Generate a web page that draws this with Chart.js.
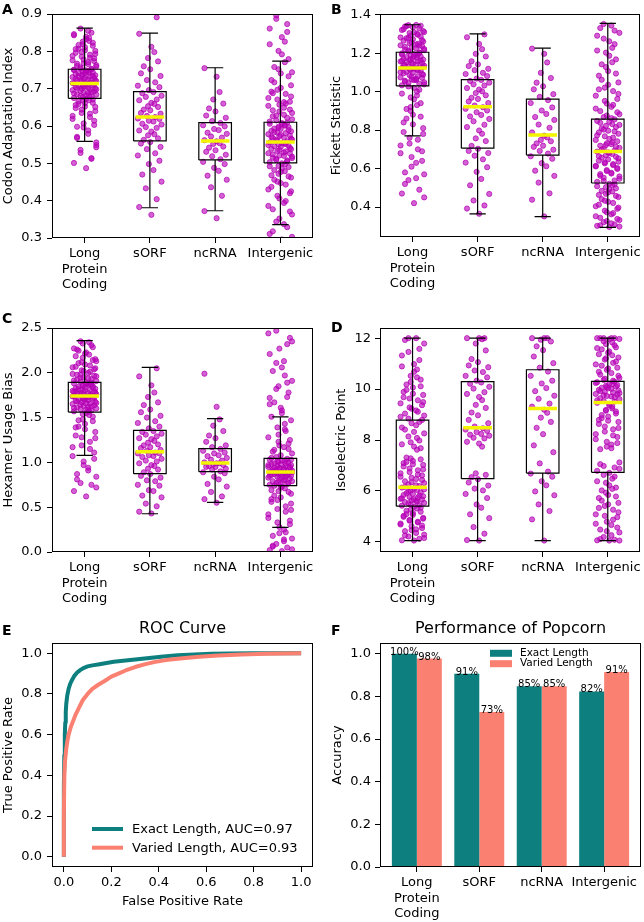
<!DOCTYPE html>
<html><head><meta charset="utf-8"><title>Popcorn feature distributions</title>
<script src="https://cdn.jsdelivr.net/npm/chart.js@4.4.1/dist/chart.umd.min.js"></script>
<style>
html,body{margin:0;padding:0;background:#fff}
body{position:relative;width:644px;height:922px;overflow:hidden;font-family:"DejaVu Sans",sans-serif}
canvas{position:absolute}
.tag{position:absolute;font-weight:bold;font-size:14px;line-height:14px;color:#000;font-family:"DejaVu Sans",sans-serif}
</style></head><body>
<canvas id="cA" width="322" height="300" style="left:0;top:0"></canvas>
<canvas id="cB" width="322" height="300" style="left:322px;top:0"></canvas>
<canvas id="cC" width="322" height="310" style="left:0;top:300px"></canvas>
<canvas id="cD" width="322" height="310" style="left:322px;top:300px"></canvas>
<canvas id="cE" width="322" height="322" style="left:0;top:600px"></canvas>
<canvas id="cF" width="322" height="322" style="left:322px;top:600px"></canvas>
<div class="tag" style="left:2px;top:2px">A</div>
<div class="tag" style="left:331px;top:1.5px">B</div>
<div class="tag" style="left:2px;top:311px">C</div>
<div class="tag" style="left:331px;top:320px">D</div>
<div class="tag" style="left:2px;top:623px">E</div>
<div class="tag" style="left:331px;top:623px">F</div>
<script>
// ---------- data ----------
const CATEGORIES = [['Long','Protein','Coding'], 'sORF', 'ncRNA', 'Intergenic'];

// Panel A: Codon Adaptation Index
const A_TICKS = [0.3,0.4,0.5,0.6,0.7,0.8,0.9];
const A_LONG = [0.487,0.501,0.514,0.536,0.549,0.568,0.579,0.596,0.603,0.619,0.624,0.635,0.640,0.648,0.652,0.659,0.662,0.668,0.669,0.673,
0.675,0.679,0.680,0.684,0.685,0.689,0.690,0.693,0.696,0.697,0.700,0.701,0.704,0.705,0.708,0.709,0.710,0.712,0.713,0.714,
0.716,0.719,0.720,0.723,0.725,0.726,0.729,0.731,0.732,0.735,0.736,0.739,0.741,0.742,0.744,0.747,0.748,0.749,0.751,0.752,
0.754,0.759,0.761,0.766,0.768,0.774,0.776,0.783,0.786,0.793,0.796,0.803,0.807,0.815,0.819,0.828,0.833,0.843,0.850,0.861,
0.556,0.571,0.588,0.607,0.614,0.627,0.633,0.644,0.651,0.656,0.661,0.666,0.671,0.677,0.681,0.683,0.687,0.691,0.694,0.698,
0.702,0.703,0.706,0.711,0.715,0.717,0.721,0.722,0.727,0.728,0.733,0.734,0.738,0.743,0.745,0.750,0.753,0.757,0.763,0.767,
0.771,0.778,0.781,0.788,0.791,0.798,0.801,0.806,0.811,0.817,0.823,0.826,0.836,0.839,0.846,0.512,0.528,0.543,0.598,0.855];
const A_SORF = [0.362,0.383,0.404,0.433,0.451,0.470,0.482,0.498,0.507,0.521,0.527,0.538,0.544,0.553,0.557,
0.563,0.567,0.575,0.578,0.585,0.588,0.595,0.597,0.604,0.606,0.612,0.614,0.619,0.620,0.624,
0.627,0.633,0.635,0.642,0.644,0.651,0.653,0.659,0.662,0.669,0.671,0.678,0.681,0.688,0.691,
0.696,0.704,0.708,0.717,0.723,0.734,0.741,0.752,0.760,0.773,0.782,0.798,0.812,0.847,0.891];
const A_NCRNA = [0.353,0.372,0.413,0.436,0.456,0.467,0.480,0.488,0.498,0.504,
0.511,0.519,0.523,0.531,0.535,0.542,0.545,0.552,0.554,0.559,
0.562,0.569,0.572,0.579,0.582,0.589,0.592,0.599,0.602,0.608,
0.613,0.622,0.628,0.639,0.647,0.660,0.671,0.691,0.732,0.755];
const A_INTER = [0.296,0.311,0.329,0.344,0.363,0.377,0.394,0.406,0.420,0.430,0.443,0.451,0.462,0.468,0.477,0.482,0.490,0.493,0.497,0.500,
0.503,0.508,0.509,0.514,0.515,0.520,0.521,0.526,0.527,0.532,0.533,0.538,0.539,0.544,0.546,0.547,0.551,0.552,0.554,0.556,
0.559,0.563,0.564,0.568,0.569,0.573,0.574,0.578,0.581,0.582,0.586,0.587,0.592,0.593,0.597,0.598,0.603,0.605,0.606,0.609,
0.615,0.618,0.626,0.630,0.639,0.644,0.654,0.660,0.671,0.679,0.692,0.702,0.717,0.733,0.752,0.771,0.792,0.819,0.852,0.887,
0.303,0.318,0.337,0.352,0.371,0.386,0.399,0.413,0.425,0.437,0.447,0.456,0.465,0.472,0.479,0.486,0.492,0.505,0.512,0.518,
0.524,0.529,0.536,0.541,0.549,0.553,0.561,0.566,0.571,0.576,0.584,0.589,0.595,0.601,0.608,0.612,0.622,0.628,0.635,0.642,
0.649,0.657,0.665,0.675,0.686,0.697,0.709,0.723,0.741,0.758,0.779,0.801,0.826,0.838,0.861,0.873,0.896,0.744,0.688,0.664];
const A_WHISK_LO = [0.559,0.381,0.373,0.336];
const A_Q1 = [0.674,0.560,0.509,0.501];
const A_MEDIAN = [0.714,0.624,0.560,0.557];
const A_Q3 = [0.752,0.692,0.609,0.610];
const A_WHISK_HI = [0.862,0.849,0.756,0.774];

// Panel B: Fickett Statistic
const B_TICKS = [0.4,0.6,0.8,1.0,1.2,1.4];
const B_LONG = [0.42,0.47,0.49,0.54,0.57,0.58,0.63,0.66,0.69,0.72,0.75,0.76,0.81,0.84,0.88,0.91,0.94,0.97,1.00,1.02,
1.033,1.041,1.046,1.049,1.057,1.061,1.064,1.072,1.074,1.081,1.086,1.088,1.096,1.099,1.104,1.109,1.114,1.115,1.121,1.123,
1.126,1.131,1.135,1.139,1.142,1.149,1.150,1.157,1.158,1.163,1.167,1.171,1.175,1.180,1.183,1.187,1.191,1.195,1.199,1.204,
1.209,1.216,1.219,1.226,1.229,1.237,1.241,1.249,1.253,1.261,1.265,1.273,1.278,1.287,1.292,1.301,1.309,1.321,1.329,1.346,
0.45,0.52,0.55,0.61,0.64,0.68,0.70,0.73,0.78,0.79,0.83,0.86,0.87,0.90,0.93,0.96,0.99,1.01,1.027,1.038,
1.052,1.067,1.078,1.092,1.101,1.112,1.118,1.129,1.137,1.145,1.153,1.161,1.169,1.177,1.185,1.193,1.201,1.212,1.222,1.233,
1.245,1.257,1.268,1.282,1.296,1.305,1.315,1.325,1.335,1.341,1.343,0.92,0.98,1.06,1.16,1.24,1.28,1.31,1.339,1.347];
const B_SORF = [0.365,0.392,0.408,0.434,0.468,0.513,0.546,0.583,0.607,0.631,0.648,0.667,0.681,0.692,0.703,
0.718,0.743,0.757,0.781,0.798,0.816,0.828,0.846,0.858,0.871,0.879,0.893,0.902,0.911,0.919,
0.928,0.941,0.949,0.962,0.968,0.981,0.993,1.002,1.011,1.019,1.032,1.038,1.047,1.056,1.061,
1.068,1.081,1.092,1.098,1.112,1.119,1.133,1.142,1.158,1.183,1.197,1.221,1.248,1.283,1.298];
const B_NCRNA = [0.351,0.438,0.471,0.527,0.562,0.589,0.612,0.628,0.651,0.664,
0.678,0.692,0.698,0.713,0.719,0.731,0.742,0.749,0.762,0.771,
0.788,0.812,0.829,0.853,0.868,0.884,0.902,0.918,0.941,0.956,
0.973,0.987,1.012,1.028,1.047,1.071,1.098,1.152,1.197,1.224];
const B_INTER = [0.296,0.302,0.309,0.321,0.332,0.344,0.362,0.373,0.391,0.404,0.421,0.433,0.452,0.463,0.476,0.484,0.497,0.503,0.514,0.521,
0.531,0.538,0.552,0.559,0.571,0.578,0.592,0.598,0.611,0.618,0.627,0.636,0.641,0.648,0.657,0.661,0.669,0.676,0.681,0.688,
0.694,0.703,0.708,0.719,0.727,0.731,0.742,0.749,0.761,0.768,0.781,0.788,0.797,0.809,0.816,0.822,0.831,0.843,0.848,0.856,
0.868,0.883,0.899,0.921,0.938,0.962,0.979,1.003,1.021,1.048,1.083,1.107,1.142,1.168,1.203,1.228,1.262,1.291,1.318,1.352,
0.298,0.305,0.315,0.327,0.338,0.352,0.368,0.381,0.397,0.412,0.427,0.441,0.458,0.469,0.481,0.492,0.508,0.518,0.536,0.547,
0.563,0.574,0.587,0.603,0.614,0.623,0.632,0.653,0.664,0.684,0.698,0.713,0.722,0.737,0.754,0.773,0.793,0.803,0.827,0.838,
0.862,0.876,0.893,0.912,0.931,0.952,0.988,1.012,1.036,1.062,1.094,1.128,1.153,1.187,1.214,1.247,1.276,1.306,1.331,1.344];
const B_WHISK_LO = [0.770,0.364,0.350,0.294];
const B_Q1 = [1.030,0.706,0.670,0.525];
const B_MEDIAN = [1.123,0.921,0.774,0.689];
const B_Q3 = [1.205,1.063,0.961,0.857];
const B_WHISK_HI = [1.348,1.301,1.226,1.355];

// Panel C: Hexamer Usage Bias
const C_TICKS = [0.0,0.5,1.0,1.5,2.0,2.5];
const C_LONG = [0.62,0.68,0.75,0.77,0.84,0.87,0.94,0.97,1.04,1.07,1.15,1.19,1.27,1.30,1.37,1.40,1.46,1.48,1.53,1.55,
1.57,1.581,1.594,1.602,1.613,1.618,1.632,1.637,1.652,1.658,1.669,1.677,1.686,1.699,1.703,1.712,1.718,1.727,1.733,1.740,
1.748,1.757,1.761,1.772,1.776,1.784,1.791,1.798,1.809,1.813,1.822,1.828,1.839,1.846,1.851,1.859,1.866,1.871,1.882,1.891,
1.902,1.908,1.923,1.936,1.952,1.968,1.987,2.012,2.028,2.051,2.068,2.093,2.108,2.142,2.168,2.203,2.227,2.272,2.308,2.352,
0.72,0.81,0.91,1.01,1.11,1.17,1.23,1.28,1.34,1.39,1.43,1.47,1.51,1.54,1.566,1.587,1.607,1.626,1.644,1.663,
1.681,1.694,1.708,1.722,1.736,1.752,1.767,1.781,1.795,1.804,1.818,1.834,1.856,1.877,1.896,1.915,1.931,1.945,1.961,1.979,
1.996,2.021,2.039,2.061,2.082,2.118,2.152,2.186,2.214,2.247,2.286,2.327,2.341,1.66,1.79,1.87,1.98,2.13,2.26,1.59];
const C_SORF = [0.43,0.45,0.51,0.54,0.61,0.63,0.68,0.69,0.74,0.75,0.79,0.80,0.83,0.85,0.87,
0.89,0.92,0.93,0.96,0.97,0.99,1.01,1.02,1.04,1.06,1.07,1.08,1.10,1.10,1.11,
1.13,1.14,1.16,1.17,1.19,1.20,1.22,1.24,1.26,1.27,1.29,1.31,1.32,1.34,1.35,
1.38,1.40,1.44,1.46,1.50,1.52,1.56,1.59,1.64,1.67,1.73,1.78,1.86,1.96,2.05];
const C_NCRNA = [0.55,0.59,0.62,0.67,0.73,0.76,0.81,0.84,0.88,0.89,
0.90,0.92,0.93,0.95,0.95,0.96,0.97,0.98,0.99,0.99,
1.00,1.02,1.03,1.05,1.07,1.08,1.10,1.11,1.13,1.15,
1.17,1.19,1.23,1.27,1.30,1.35,1.41,1.48,1.62,1.99];
const C_INTER = [0.01,0.02,0.05,0.09,0.15,0.18,0.25,0.28,0.35,0.38,0.45,0.48,0.54,0.56,0.61,0.63,0.67,0.68,0.71,0.73,
0.75,0.76,0.77,0.79,0.79,0.80,0.82,0.82,0.83,0.84,0.84,0.85,0.86,0.86,0.87,0.87,0.88,0.88,0.89,0.89,
0.90,0.91,0.91,0.92,0.93,0.94,0.94,0.95,0.96,0.96,0.97,0.98,0.98,0.99,1.00,1.01,1.02,1.02,1.03,1.04,
1.06,1.10,1.12,1.17,1.19,1.25,1.28,1.35,1.39,1.47,1.51,1.61,1.67,1.78,1.85,1.97,2.06,2.21,2.32,2.47,
0.03,0.07,0.12,0.21,0.31,0.42,0.51,0.58,0.65,0.69,0.72,0.74,0.77,0.78,0.81,0.83,0.85,0.86,0.88,0.89,
0.90,0.92,0.93,0.95,0.97,0.99,1.01,1.03,1.05,1.08,1.14,1.21,1.31,1.43,1.55,1.65,1.73,1.82,1.91,2.02,
2.13,2.27,2.39,2.44,0.22,0.33,0.47,0.59,0.76,0.94,1.15,1.23,1.37,1.58,1.72,1.89,2.11,2.35,0.06,0.14];
const C_WHISK_LO = [1.078,0.427,0.553,0.275];
const C_Q1 = [1.562,0.874,0.896,0.740];
const C_MEDIAN = [1.741,1.119,0.993,0.893];
const C_Q3 = [1.893,1.357,1.153,1.045];
const C_WHISK_HI = [2.358,2.060,1.488,1.507];

// Panel D: Isoelectric Point
const D_TICKS = [4,6,8,10,12];
const D_LONG = [4.05,4.06,4.12,4.21,4.28,4.42,4.49,4.61,4.64,4.72,4.79,4.86,4.91,4.98,5.06,5.09,5.18,5.26,5.31,5.38,
5.42,5.44,5.51,5.53,5.56,5.61,5.63,5.66,5.69,5.73,5.76,5.79,5.84,5.88,5.91,5.94,6.01,6.04,6.09,6.13,
6.19,6.26,6.31,6.38,6.47,6.52,6.61,6.69,6.81,6.88,7.02,7.09,7.18,7.31,7.68,7.91,8.08,8.32,8.49,8.71,
8.84,8.96,9.04,9.16,9.23,9.37,9.44,9.56,9.63,9.77,9.89,10.06,10.18,10.37,10.52,10.77,10.98,11.32,11.58,12.0,
4.15,4.25,4.35,4.46,4.54,4.68,4.76,4.83,4.94,5.02,5.13,5.22,5.34,5.47,5.58,5.67,5.71,5.82,5.97,6.06,
6.16,6.22,6.34,6.43,6.56,6.64,6.74,6.85,6.96,7.05,7.14,7.24,7.28,7.62,7.74,7.83,7.98,8.14,8.26,8.41,
8.58,8.66,8.79,8.91,9.11,9.28,9.49,9.68,9.82,9.97,10.11,10.28,10.46,10.68,10.89,11.14,11.46,11.79,11.93,12.0];
const D_SORF = [4.05,4.07,4.32,4.58,4.93,5.08,5.34,5.47,5.72,5.88,6.02,6.09,6.21,6.33,6.46,
6.54,6.63,6.69,7.74,7.86,7.93,8.06,8.09,8.17,8.21,8.24,8.31,8.36,8.41,8.46,
8.53,8.66,8.79,8.97,9.08,9.26,9.38,9.57,9.69,9.81,9.88,10.02,10.09,10.21,10.26,
10.33,10.46,10.52,10.67,10.73,10.86,10.93,11.06,11.18,11.52,11.79,11.96,12.0,12.0,12.0];
const D_NCRNA = [4.05,4.88,5.21,5.47,5.83,5.98,6.22,6.38,6.56,6.68,
6.76,7.08,7.52,7.79,8.23,8.48,8.71,8.88,9.07,9.19,
9.31,9.43,9.62,9.74,9.92,10.04,10.22,10.33,10.52,10.69,
10.84,11.02,11.28,11.53,11.68,11.87,11.94,12.0,12.0,12.0];
const D_INTER = [4.05,4.06,4.08,4.19,4.37,4.48,4.66,4.79,4.97,5.08,5.26,5.41,5.53,5.72,5.84,6.02,6.13,6.32,6.48,6.71,
6.79,6.92,6.98,7.12,7.64,7.82,7.93,8.12,8.23,8.42,8.53,8.71,8.79,8.92,8.98,9.12,9.18,9.31,9.36,9.46,
9.51,9.53,9.61,9.64,9.71,9.73,9.79,9.81,9.87,9.89,9.95,9.97,10.03,10.05,10.11,10.13,10.19,10.21,10.27,10.29,
10.36,10.44,10.57,10.63,10.76,10.84,10.97,11.03,11.16,11.24,11.37,11.43,11.56,11.64,11.77,11.83,11.96,12.0,12.0,12.0,
4.05,4.11,4.26,4.42,4.56,4.71,4.87,5.02,5.16,5.33,5.47,5.62,5.78,5.93,6.08,6.22,6.38,6.56,6.63,6.87,
7.05,7.68,7.74,7.88,8.03,8.18,8.33,8.47,8.63,8.76,8.86,9.04,9.15,9.24,9.42,9.56,9.68,9.76,9.84,9.92,
10.01,10.08,10.16,10.24,10.33,10.41,10.52,10.68,10.81,10.92,11.08,11.21,11.33,11.48,11.61,11.72,11.88,11.97,12.0,12.0];
const D_WHISK_LO = [4.05,4.05,4.05,4.05];
const D_Q1 = [5.40,6.48,6.70,6.73];
const D_MEDIAN = [6.14,8.48,9.24,9.47];
const D_Q3 = [8.78,10.29,10.76,10.30];
const D_WHISK_HI = [12.0,12.0,12.0,12.0];

// Panel E: ROC curves
const ROC_TICKS = [0.0,0.2,0.4,0.6,0.8,1.0];
const ROC_EXACT_LABEL = 'Exact Length, AUC=0.97';
const ROC_EXACT_FPR = [0,0.0,0.002,0.004,0.006,0.008,0.01,0.014,0.02,0.027,0.035,0.045,0.056,0.07,0.085,0.1,0.12,0.15,0.18,0.21,0.25,0.29,0.33,0.37,0.42,0.48,0.55,0.62,0.7,0.8,0.9,1.0];
const ROC_EXACT_TPR = [0,0.35,0.5,0.6,0.66,0.71,0.75,0.79,0.825,0.85,0.87,0.89,0.905,0.918,0.928,0.935,0.94,0.946,0.952,0.958,0.963,0.968,0.973,0.978,0.984,0.99,0.994,0.997,0.999,1.0,1.0,1.0];
const ROC_VARIED_LABEL = 'Varied Length, AUC=0.93';
const ROC_VARIED_FPR = [0,0.0,0.002,0.005,0.01,0.015,0.02,0.03,0.04,0.05,0.065,0.08,0.1,0.12,0.145,0.17,0.2,0.23,0.26,0.3,0.34,0.38,0.43,0.5,0.57,0.65,0.75,0.85,1.0];
const ROC_VARIED_TPR = [0,0.2,0.4,0.47,0.53,0.57,0.6,0.64,0.67,0.7,0.735,0.77,0.8,0.825,0.845,0.862,0.885,0.9,0.915,0.932,0.945,0.956,0.966,0.975,0.983,0.989,0.993,0.997,1.0];

// Panel F: accuracy
const F_TICKS = [0.0,0.2,0.4,0.6,0.8,1.0];
const F_SERIES = ['Exact Length','Varied Length'];
const F_EXACT = [1.0,0.906,0.847,0.823];
const F_VARIED = [0.977,0.727,0.847,0.914];

// ---------- styles ----------
const TEAL = '#0e7f7f', SALMON = '#fa8072';
const MEDIAN_COLOR = '#f4f400', BOX_COLOR = '#000';
const PT_FILL = 'rgba(186,0,186,0.62)', PT_EDGE = 'rgba(176,0,176,0.7)';
const BOX_HALF = 0.25, CAP_HALF = 0.125, MED_HALF = 0.22, JIT_W = 0.19;
const JITTER = [0.12,-0.86,0.55,-0.33,0.94,-0.61,0.29,-0.08,0.77,-0.97,0.43,-0.24,0.86,-0.72,0.03,-0.49,0.66,-0.15,0.36];

Chart.defaults.font.family = '"DejaVu Sans", sans-serif';
Chart.defaults.font.size = 13;
Chart.defaults.color = '#000';

const gridTicks = () => ({display:true, drawOnChartArea:false, drawTicks:true, tickLength:5, color:'#000', lineWidth:1, offset:false});

const framePlugin = {id:'frame', afterDatasetsDraw(chart){
  const a = chart.chartArea, c = chart.ctx;
  const l = Math.round(a.left)+0.5, t = Math.round(a.top)+0.5, r = Math.round(a.right)-0.5, b = Math.round(a.bottom)-0.5;
  c.save(); c.strokeStyle = '#000'; c.lineWidth = 1; c.strokeRect(l, t, r-l, b-t); c.restore();
}};

function axisY(o){ return {
  type:'linear', min:o.min, max:o.max,
  afterBuildTicks:s=>{ s.ticks = o.ticks.map(v=>({value:v})); },
  afterFit:s=>{ s.width = o.w; },
  ticks:{padding:o.tp, autoSkip:false, callback:o.fmt, font:{size:13}},
  grid:gridTicks(), border:{display:false},
  title:{display:true, text:o.title, padding:{top:o.titlePad,bottom:0}, font:{size:13}}
};}
function axisCat(o){ return {
  type:'linear', min:o.min, max:o.max, offset:false,
  afterBuildTicks:s=>{ s.ticks = CATEGORIES.map((_,i)=>({value:i})); },
  afterFit:s=>{ s.height = o.h; },
  ticks:{padding:3, autoSkip:false, maxRotation:0, minRotation:0, callback:v=>CATEGORIES[v], font:{size:13}},
  grid:gridTicks(), border:{display:false}
};}

function stripData(groups){
  const pts = [];
  groups.forEach((vals,i)=>vals.forEach((v,j)=>pts.push({x:i + JITTER[j % JITTER.length]*JIT_W, y:v})));
  return pts;
}
function boxLines(lo,q1,med,q3,hi){
  const box=[], wh=[], cap=[], md=[];
  q1.forEach((_,i)=>{
    const l=i-BOX_HALF, r=i+BOX_HALF;
    box.push({x:l,y:q1[i]},{x:r,y:q1[i]},{x:r,y:q3[i]},{x:l,y:q3[i]},{x:l,y:q1[i]},{x:i,y:null});
    wh.push({x:i,y:lo[i]},{x:i,y:q1[i]},{x:i,y:null},{x:i,y:q3[i]},{x:i,y:hi[i]},{x:i,y:null});
    cap.push({x:i-CAP_HALF,y:lo[i]},{x:i+CAP_HALF,y:lo[i]},{x:i,y:null},{x:i-CAP_HALF,y:hi[i]},{x:i+CAP_HALF,y:hi[i]},{x:i,y:null});
    md.push({x:i-MED_HALF,y:med[i]},{x:i+MED_HALF,y:med[i]},{x:i,y:null});
  });
  return {box,wh,cap,md};
}
const lineDs = (data,color,width,order)=>({type:'line', data, borderColor:color, borderWidth:width, pointRadius:0, pointHoverRadius:0, order, spanGaps:false, tension:0, borderCapStyle:'butt', borderJoinStyle:'miter', fill:false});

function boxChart(id, g, yo, groups, lo, q1, med, q3, hi){
  const L = boxLines(lo,q1,med,q3,hi);
  return new Chart(document.getElementById(id), {
    type:'scatter',
    data:{datasets:[
      lineDs(L.md, MEDIAN_COLOR, 3.5, 0),
      lineDs(L.box, BOX_COLOR, 1.2, 1),
      lineDs(L.wh, BOX_COLOR, 1.2, 1),
      lineDs(L.cap, BOX_COLOR, 1.2, 1),
      {data:stripData(groups), pointRadius:2.6, pointHoverRadius:2.6, backgroundColor:PT_FILL, borderColor:PT_EDGE, borderWidth:1, order:2}
    ]},
    options:{responsive:false, animation:false, events:[], devicePixelRatio:1,
      layout:{padding:{top:g.top, right:g.right, bottom:0, left:0}},
      plugins:{legend:{display:false}, tooltip:{enabled:false}},
      scales:{x:axisCat({min:-0.5, max:3.5, h:g.xh}), y:axisY(yo)}},
    plugins:[framePlugin]
  });
}

const f1 = v => v.toFixed(1);
boxChart('cA', {top:14, right:9, xh:62},
  {min:0.3, max:0.9, ticks:A_TICKS, fmt:f1, w:52, tp:5, title:'Codon Adaptation Index', titlePad:0.5},
  [A_LONG,A_SORF,A_NCRNA,A_INTER], A_WHISK_LO, A_Q1, A_MEDIAN, A_Q3, A_WHISK_HI);
boxChart('cB', {top:14, right:3, xh:63},
  {min:0.244, max:1.404, ticks:B_TICKS, fmt:f1, w:58, tp:4, title:'Fickett Statistic', titlePad:7},
  [B_LONG,B_SORF,B_NCRNA,B_INTER], B_WHISK_LO, B_Q1, B_MEDIAN, B_Q3, B_WHISK_HI);
boxChart('cC', {top:28, right:9, xh:58},
  {min:0, max:2.5, ticks:C_TICKS, fmt:f1, w:52, tp:5, title:'Hexamer Usage Bias', titlePad:1},
  [C_LONG,C_SORF,C_NCRNA,C_INTER], C_WHISK_LO, C_Q1, C_MEDIAN, C_Q3, C_WHISK_HI);
boxChart('cD', {top:28, right:3, xh:58},
  {min:3.6, max:12.4, ticks:D_TICKS, fmt:v=>String(v), w:58, tp:4, title:'Isoelectric Point', titlePad:12},
  [D_LONG,D_SORF,D_NCRNA,D_INTER], D_WHISK_LO, D_Q1, D_MEDIAN, D_Q3, D_WHISK_HI);

// ---------- E: ROC ----------
const rocLegend = {id:'rocLegend', afterDatasetsDraw(chart){
  const a = chart.chartArea, c = chart.ctx;
  c.save(); c.font = '13px "DejaVu Sans", sans-serif'; c.textBaseline = 'middle'; c.textAlign = 'left'; c.fillStyle = '#000';
  chart.data.datasets.forEach((d,i)=>{
    const y = a.bottom - 38 + i*18.7;
    c.strokeStyle = d.borderColor; c.lineWidth = 4; c.lineCap = 'butt';
    c.beginPath(); c.moveTo(a.left+40, y); c.lineTo(a.left+71, y); c.stroke();
    c.fillText(d.label, a.left+80, y+0.5);
  });
  c.restore();
}};
new Chart(document.getElementById('cE'), {
  type:'scatter',
  data:{datasets:[
    {type:'line', label:ROC_EXACT_LABEL, data:ROC_EXACT_FPR.map((x,i)=>({x, y:ROC_EXACT_TPR[i]})), borderColor:TEAL, borderWidth:4, pointRadius:0, tension:0, order:1, borderJoinStyle:'round', fill:false},
    {type:'line', label:ROC_VARIED_LABEL, data:ROC_VARIED_FPR.map((x,i)=>({x, y:ROC_VARIED_TPR[i]})), borderColor:SALMON, borderWidth:4, pointRadius:0, tension:0, order:0, borderJoinStyle:'round', fill:false}
  ]},
  options:{responsive:false, animation:false, events:[], devicePixelRatio:1,
    layout:{padding:{top:0, right:9, bottom:0, left:0}},
    plugins:{legend:{display:false}, tooltip:{enabled:false},
      title:{display:true, text:'ROC Curve', fullSize:false, color:'#000', font:{size:16, weight:'normal'}, padding:{top:19, bottom:4.8}}},
    scales:{
      x:{type:'linear', min:-0.05, max:1.05,
        afterBuildTicks:s=>{ s.ticks = ROC_TICKS.map(v=>({value:v})); },
        afterFit:s=>{ s.height = 55; },
        ticks:{padding:3, autoSkip:false, maxRotation:0, callback:f1},
        grid:gridTicks(), border:{display:false},
        title:{display:true, text:'False Positive Rate', padding:{top:0, bottom:12.5}, font:{size:13}}},
      y:axisY({min:-0.05, max:1.05, ticks:ROC_TICKS, fmt:f1, w:52, tp:5, title:'True Positive Rate', titlePad:0.5})
    }},
  plugins:[framePlugin, rocLegend]
});

// ---------- F: bars ----------
const barLabels = {id:'barLabels', afterDatasetsDraw(chart){
  const c = chart.ctx;
  c.save(); c.font = '10px "DejaVu Sans", sans-serif'; c.textAlign = 'center'; c.textBaseline = 'alphabetic'; c.fillStyle = '#000';
  chart.data.datasets.forEach((d,di)=>{
    chart.getDatasetMeta(di).data.forEach((el,j)=>{
      c.fillText(Math.round(d.data[j].y*100) + '%', el.x, el.y + 1);
    });
  });
  c.restore();
}};
const barLegend = {id:'barLegend', afterDatasetsDraw(chart){
  const a = chart.chartArea, c = chart.ctx;
  c.save(); c.font = '10.5px "DejaVu Sans", sans-serif'; c.textBaseline = 'middle'; c.textAlign = 'left';
  chart.data.datasets.forEach((d,i)=>{
    const y = a.top + 10.3 + i*10.4;
    c.fillStyle = d.backgroundColor; c.fillRect(a.left+110, y-3.5, 22, 7);
    c.fillStyle = '#000'; c.fillText(d.label, a.left+140, y);
  });
  c.restore();
}};
new Chart(document.getElementById('cF'), {
  type:'bar',
  data:{datasets:[
    {label:F_SERIES[0], data:F_EXACT.map((y,i)=>({x:i, y})), backgroundColor:TEAL, borderWidth:0},
    {label:F_SERIES[1], data:F_VARIED.map((y,i)=>({x:i, y})), backgroundColor:SALMON, borderWidth:0}
  ]},
  options:{responsive:false, animation:false, events:[], devicePixelRatio:1,
    datasets:{bar:{categoryPercentage:0.8, barPercentage:1.0}},
    layout:{padding:{top:0, right:3, bottom:0, left:0}},
    plugins:{legend:{display:false}, tooltip:{enabled:false},
      title:{display:true, text:'Performance of Popcorn', fullSize:false, color:'#000', font:{size:16, weight:'normal'}, padding:{top:19, bottom:4.8}}},
    scales:{
      x:axisCat({min:-0.59, max:3.59, h:55}),
      y:axisY({min:0, max:1.05, ticks:F_TICKS, fmt:f1, w:58, tp:4, title:'Accuracy', titlePad:8})
    }},
  plugins:[framePlugin, barLabels, barLegend]
});
</script></body></html>
